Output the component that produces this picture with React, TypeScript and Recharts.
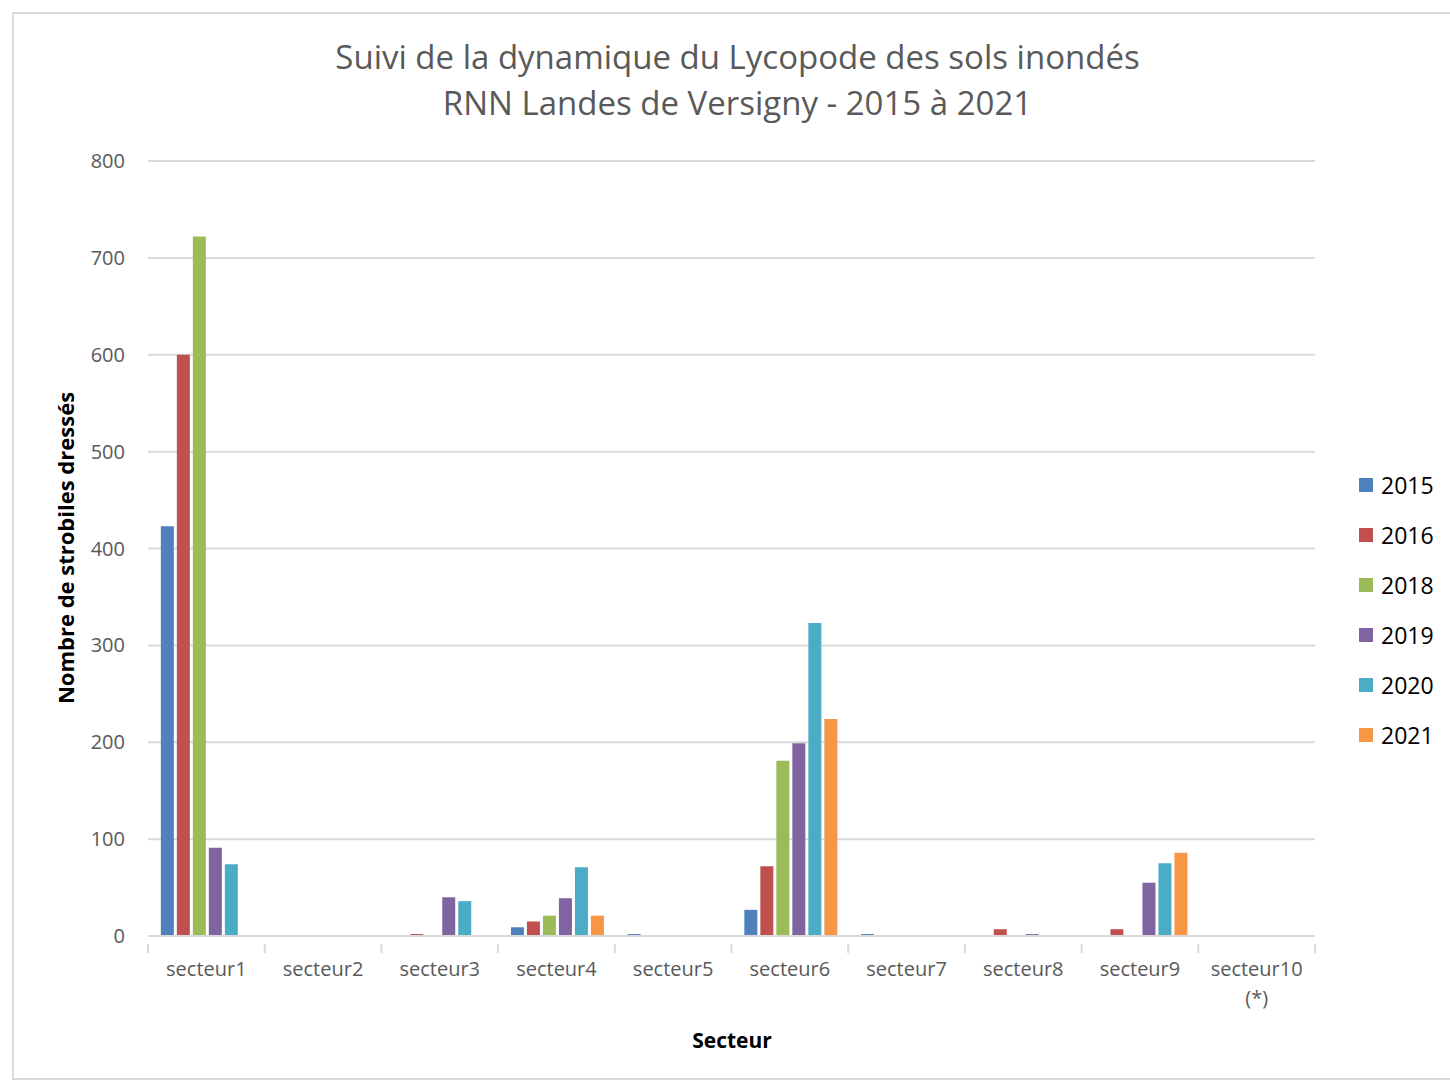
import React from "react"
import { BarChart, Bar, XAxis, YAxis, CartesianGrid } from "recharts"

const SECTEURS = ["secteur1", "secteur2", "secteur3", "secteur4", "secteur5", "secteur6", "secteur7", "secteur8", "secteur9", "secteur10 (*)"]
const Y_TICKS = [0, 100, 200, 300, 400, 500, 600, 700, 800]

const V2015 = [423, 0, 0, 9, 2, 27, 2, 0, 0, 0]
const V2016 = [600, 0, 2, 15, 0, 72, 0, 7, 7, 0]
const V2018 = [722, 0, 0, 21, 0, 181, 0, 0, 0, 0]
const V2019 = [91, 0, 40, 39, 0, 199, 0, 2, 55, 0]
const V2020 = [74, 0, 36, 71, 0, 323, 0, 0, 75, 0]
const V2021 = [0, 0, 0, 21, 0, 224, 0, 0, 86, 0]

const SERIES = [
  { key: "2015", values: V2015, color: "#4F81BD" },
  { key: "2016", values: V2016, color: "#C0504D" },
  { key: "2018", values: V2018, color: "#9BBB59" },
  { key: "2019", values: V2019, color: "#8064A2" },
  { key: "2020", values: V2020, color: "#4BACC6" },
  { key: "2021", values: V2021, color: "#F79646" },
]

const data = SECTEURS.map((name, i) => {
  const row: Record<string, string | number> = { name }
  SERIES.forEach((s) => (row[s.key] = s.values[i]))
  return row
})

const FONT = "'Open Sans', 'Liberation Sans', sans-serif"
const GREY = "#595959"
const LINE = "#D9D9D9"

// label + tick marks on the category boundaries (Excel style)
function SecteurTick(props: any) {
  const { x, y, payload, index } = props
  const half = payload.offset || 58.35
  const parts = String(payload.value).split(" ")
  const last = index === SECTEURS.length - 1
  return (
    <g>
      <line x1={x - half} x2={x - half} y1={y} y2={y + 9} stroke={LINE} strokeWidth={2} />
      {last && <line x1={x + half} x2={x + half} y1={y} y2={y + 9} stroke={LINE} strokeWidth={2} />}
      {parts.map((p, i) => (
        <text key={i} x={x} y={y + 32 + i * 29} textAnchor="middle" fill={GREY} fontSize={20} fontFamily={FONT}>
          {p}
        </text>
      ))}
    </g>
  )
}

export default function App() {
  return (
    <div style={{ position: "absolute", left: 0, top: 0, width: 1450, height: 1083, background: "#fff", fontFamily: FONT }}>
      <div style={{ position: "absolute", left: 12, top: 12, width: 1450, height: 1068, border: "2px solid #D9D9D9", boxSizing: "border-box" }} />
      <div style={{ position: "absolute", left: 0, top: 34, width: 1475, textAlign: "center", color: GREY, fontSize: 33, lineHeight: "46px" }}>
        Suivi de la dynamique du Lycopode des sols inondés
        <br />
        RNN Landes de Versigny - 2015 à 2021
      </div>
      <BarChart
        width={1450}
        height={1083}
        data={data}
        margin={{ top: 161, right: 135, bottom: 87, left: 88 }}
        barCategoryGap="11%"
        barGap={3}
        style={{ position: "absolute", left: 0, top: 0 }}
      >
        <CartesianGrid vertical={false} stroke={LINE} strokeWidth={2} />
        <XAxis
          dataKey="name"
          height={60}
          interval={0}
          tickLine={false}
          axisLine={{ stroke: LINE, strokeWidth: 2 }}
          tick={<SecteurTick />}
        />
        <YAxis
          width={60}
          domain={[0, 800]}
          ticks={Y_TICKS}
          axisLine={false}
          tickLine={false}
          tickMargin={17}
          tick={{ fill: GREY, fontSize: 20, fontFamily: FONT }}
        />
        {SERIES.map((s) => (
          <Bar key={s.key} dataKey={s.key} fill={s.color} isAnimationActive={false} />
        ))}
      </BarChart>
      <div style={{ position: "absolute", left: 65, top: 548, transform: "translate(-50%, -50%) rotate(-90deg)", whiteSpace: "nowrap", fontWeight: "bold", fontSize: 22, color: "#000" }}>
        Nombre de strobiles dressés
      </div>
      <div style={{ position: "absolute", left: 732, top: 1040, transform: "translate(-50%, -50%)", fontWeight: "bold", fontSize: 21, color: "#000" }}>
        Secteur
      </div>
      <div style={{ position: "absolute", left: 1359, top: 460 }}>
        {SERIES.map((s) => (
          <div key={s.key} style={{ display: "flex", alignItems: "center", height: 50 }}>
            <div style={{ width: 14, height: 14, background: s.color, marginRight: 8 }} />
            <span style={{ fontSize: 23, color: "#000" }}>{s.key}</span>
          </div>
        ))}
      </div>
    </div>
  )
}
